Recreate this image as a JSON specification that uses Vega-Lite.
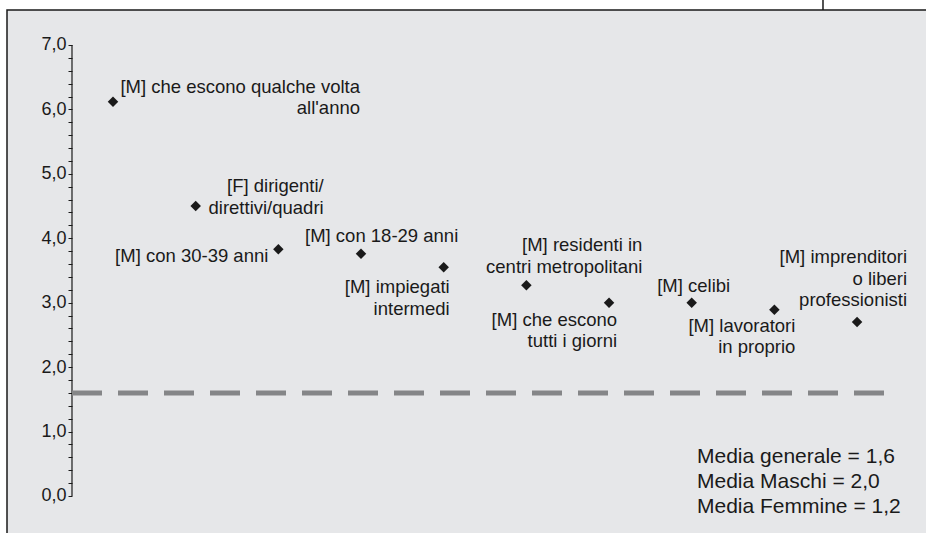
{
  "$schema": "https://vega.github.io/schema/vega-lite/v6.json",
  "width": 920,
  "height": 524,
  "autosize": {"type": "none"},
  "padding": {"left": 7, "top": 10, "right": 0, "bottom": 0},
  "background": "#ffffff",
  "config": {
    "view": {"stroke": "#1a1a1a", "strokeWidth": 1.5, "fill": "#e6e7e9"},
    "text": {"font": "Liberation Sans", "fontSize": 18.5, "color": "#1a1a1a", "baseline": "middle", "lineBreak": "\n", "lineHeight": 21.5},
    "axis": {"labelFont": "Liberation Sans"}
  },
  "datasets": {
    "points": [
      {"id": 1, "label": "[M] che escono qualche volta\nall'anno", "value": 6.12},
      {"id": 2, "label": "[F] dirigenti/\ndirettivi/quadri", "value": 4.5},
      {"id": 3, "label": "[M] con 30-39 anni", "value": 3.83},
      {"id": 4, "label": "[M] con 18-29 anni", "value": 3.76},
      {"id": 5, "label": "[M] impiegati\nintermedi", "value": 3.55},
      {"id": 6, "label": "[M] residenti in\ncentri metropolitani", "value": 3.27},
      {"id": 7, "label": "[M] che escono\ntutti i giorni", "value": 3.0},
      {"id": 8, "label": "[M] celibi", "value": 3.0},
      {"id": 9, "label": "[M] lavoratori\nin proprio", "value": 2.89},
      {"id": 10, "label": "[M] imprenditori\no liberi\nprofessionisti", "value": 2.7}
    ]
  },
  "data": {"name": "points"},
  "encoding": {
    "x": {"field": "id", "type": "quantitative", "scale": {"domain": [-0.2822, 10.846], "nice": false, "zero": false}, "axis": null},
    "y": {"field": "value", "type": "quantitative", "scale": {"domain": [-0.59, 7.543], "nice": false, "zero": false},
      "axis": {
        "orient": "left", "offset": -65, "domain": false, "grid": false, "title": null,
        "values": [0, 0.2, 0.4, 0.6, 0.8, 1, 1.2, 1.4, 1.6, 1.8, 2, 2.2, 2.4, 2.6, 2.8, 3, 3.2, 3.4, 3.6, 3.8, 4, 4.2, 4.4, 4.6, 4.8, 5, 5.2, 5.4, 5.6, 5.8, 6, 6.2, 6.4, 6.6, 6.8, 7],
        "labelExpr": "abs(datum.value - round(datum.value)) < 0.001 ? replace(format(datum.value, '.1f'), '.', ',') : ''",
        "tickSize": 4, "tickColor": "#1a1a1a", "tickWidth": 1,
        "labelFontSize": 18, "labelColor": "#1a1a1a", "labelPadding": 2, "labelBaseline": "middle"
      }
    }
  },
  "layer": [
    {
      "transform": [{"filter": "datum.id == 1"}],
      "mark": {"type": "rule", "color": "#1a1a1a", "strokeWidth": 1.2},
      "encoding": {"x": {"datum": 0.504}, "y": {"datum": 0}, "y2": {"datum": 7}}
    },
    {
      "transform": [{"filter": "datum.id == 1"}],
      "mark": {"type": "rule", "color": "#1a1a1a", "strokeWidth": 1.5, "clip": false},
      "encoding": {"x": {"datum": 9.588}, "y": {"datum": 7.543}, "y2": {"datum": 7.72}}
    },
    {
      "transform": [{"filter": "datum.id == 1"}],
      "mark": {"type": "rule", "color": "#858688", "strokeWidth": 5, "strokeDash": [30, 16]},
      "encoding": {"x": {"datum": 0.504}, "x2": {"datum": 10.326}, "y": {"datum": 1.6}}
    },
    {
      "mark": {"type": "point", "shape": "diamond", "filled": true, "size": 110, "color": "#1a1a1a", "opacity": 1}
    },
    {"transform": [{"filter": "datum.id == 1"}], "mark": {"type": "text", "align": "right", "dx": 247, "dy": -15}, "encoding": {"text": {"field": "label"}}},
    {"transform": [{"filter": "datum.id == 2"}], "mark": {"type": "text", "align": "right", "dx": 128, "dy": -20}, "encoding": {"text": {"field": "label"}}},
    {"transform": [{"filter": "datum.id == 3"}], "mark": {"type": "text", "align": "right", "dx": -10, "dy": 7}, "encoding": {"text": {"field": "label"}}},
    {"transform": [{"filter": "datum.id == 4"}], "mark": {"type": "text", "align": "left", "dx": -56, "dy": -18}, "encoding": {"text": {"field": "label"}}},
    {"transform": [{"filter": "datum.id == 5"}], "mark": {"type": "text", "align": "right", "dx": 6, "dy": 20}, "encoding": {"text": {"field": "label"}}},
    {"transform": [{"filter": "datum.id == 6"}], "mark": {"type": "text", "align": "right", "dx": 116, "dy": -40}, "encoding": {"text": {"field": "label"}}},
    {"transform": [{"filter": "datum.id == 7"}], "mark": {"type": "text", "align": "right", "dx": 8, "dy": 17}, "encoding": {"text": {"field": "label"}}},
    {"transform": [{"filter": "datum.id == 8"}], "mark": {"type": "text", "align": "center", "dx": 2, "dy": -17}, "encoding": {"text": {"field": "label"}}},
    {"transform": [{"filter": "datum.id == 9"}], "mark": {"type": "text", "align": "right", "dx": 21, "dy": 16}, "encoding": {"text": {"field": "label"}}},
    {"transform": [{"filter": "datum.id == 10"}], "mark": {"type": "text", "align": "right", "dx": 50, "dy": -65}, "encoding": {"text": {"field": "label"}}},
    {
      "transform": [{"filter": "datum.id == 1"}],
      "mark": {"type": "text", "align": "left", "fontSize": 21, "lineHeight": 25, "dy": -25},
      "encoding": {
        "x": {"datum": 8.064},
        "y": {"datum": 0.217},
        "text": {"value": "Media generale = 1,6\nMedia Maschi = 2,0\nMedia Femmine = 1,2"}
      }
    }
  ]
}
